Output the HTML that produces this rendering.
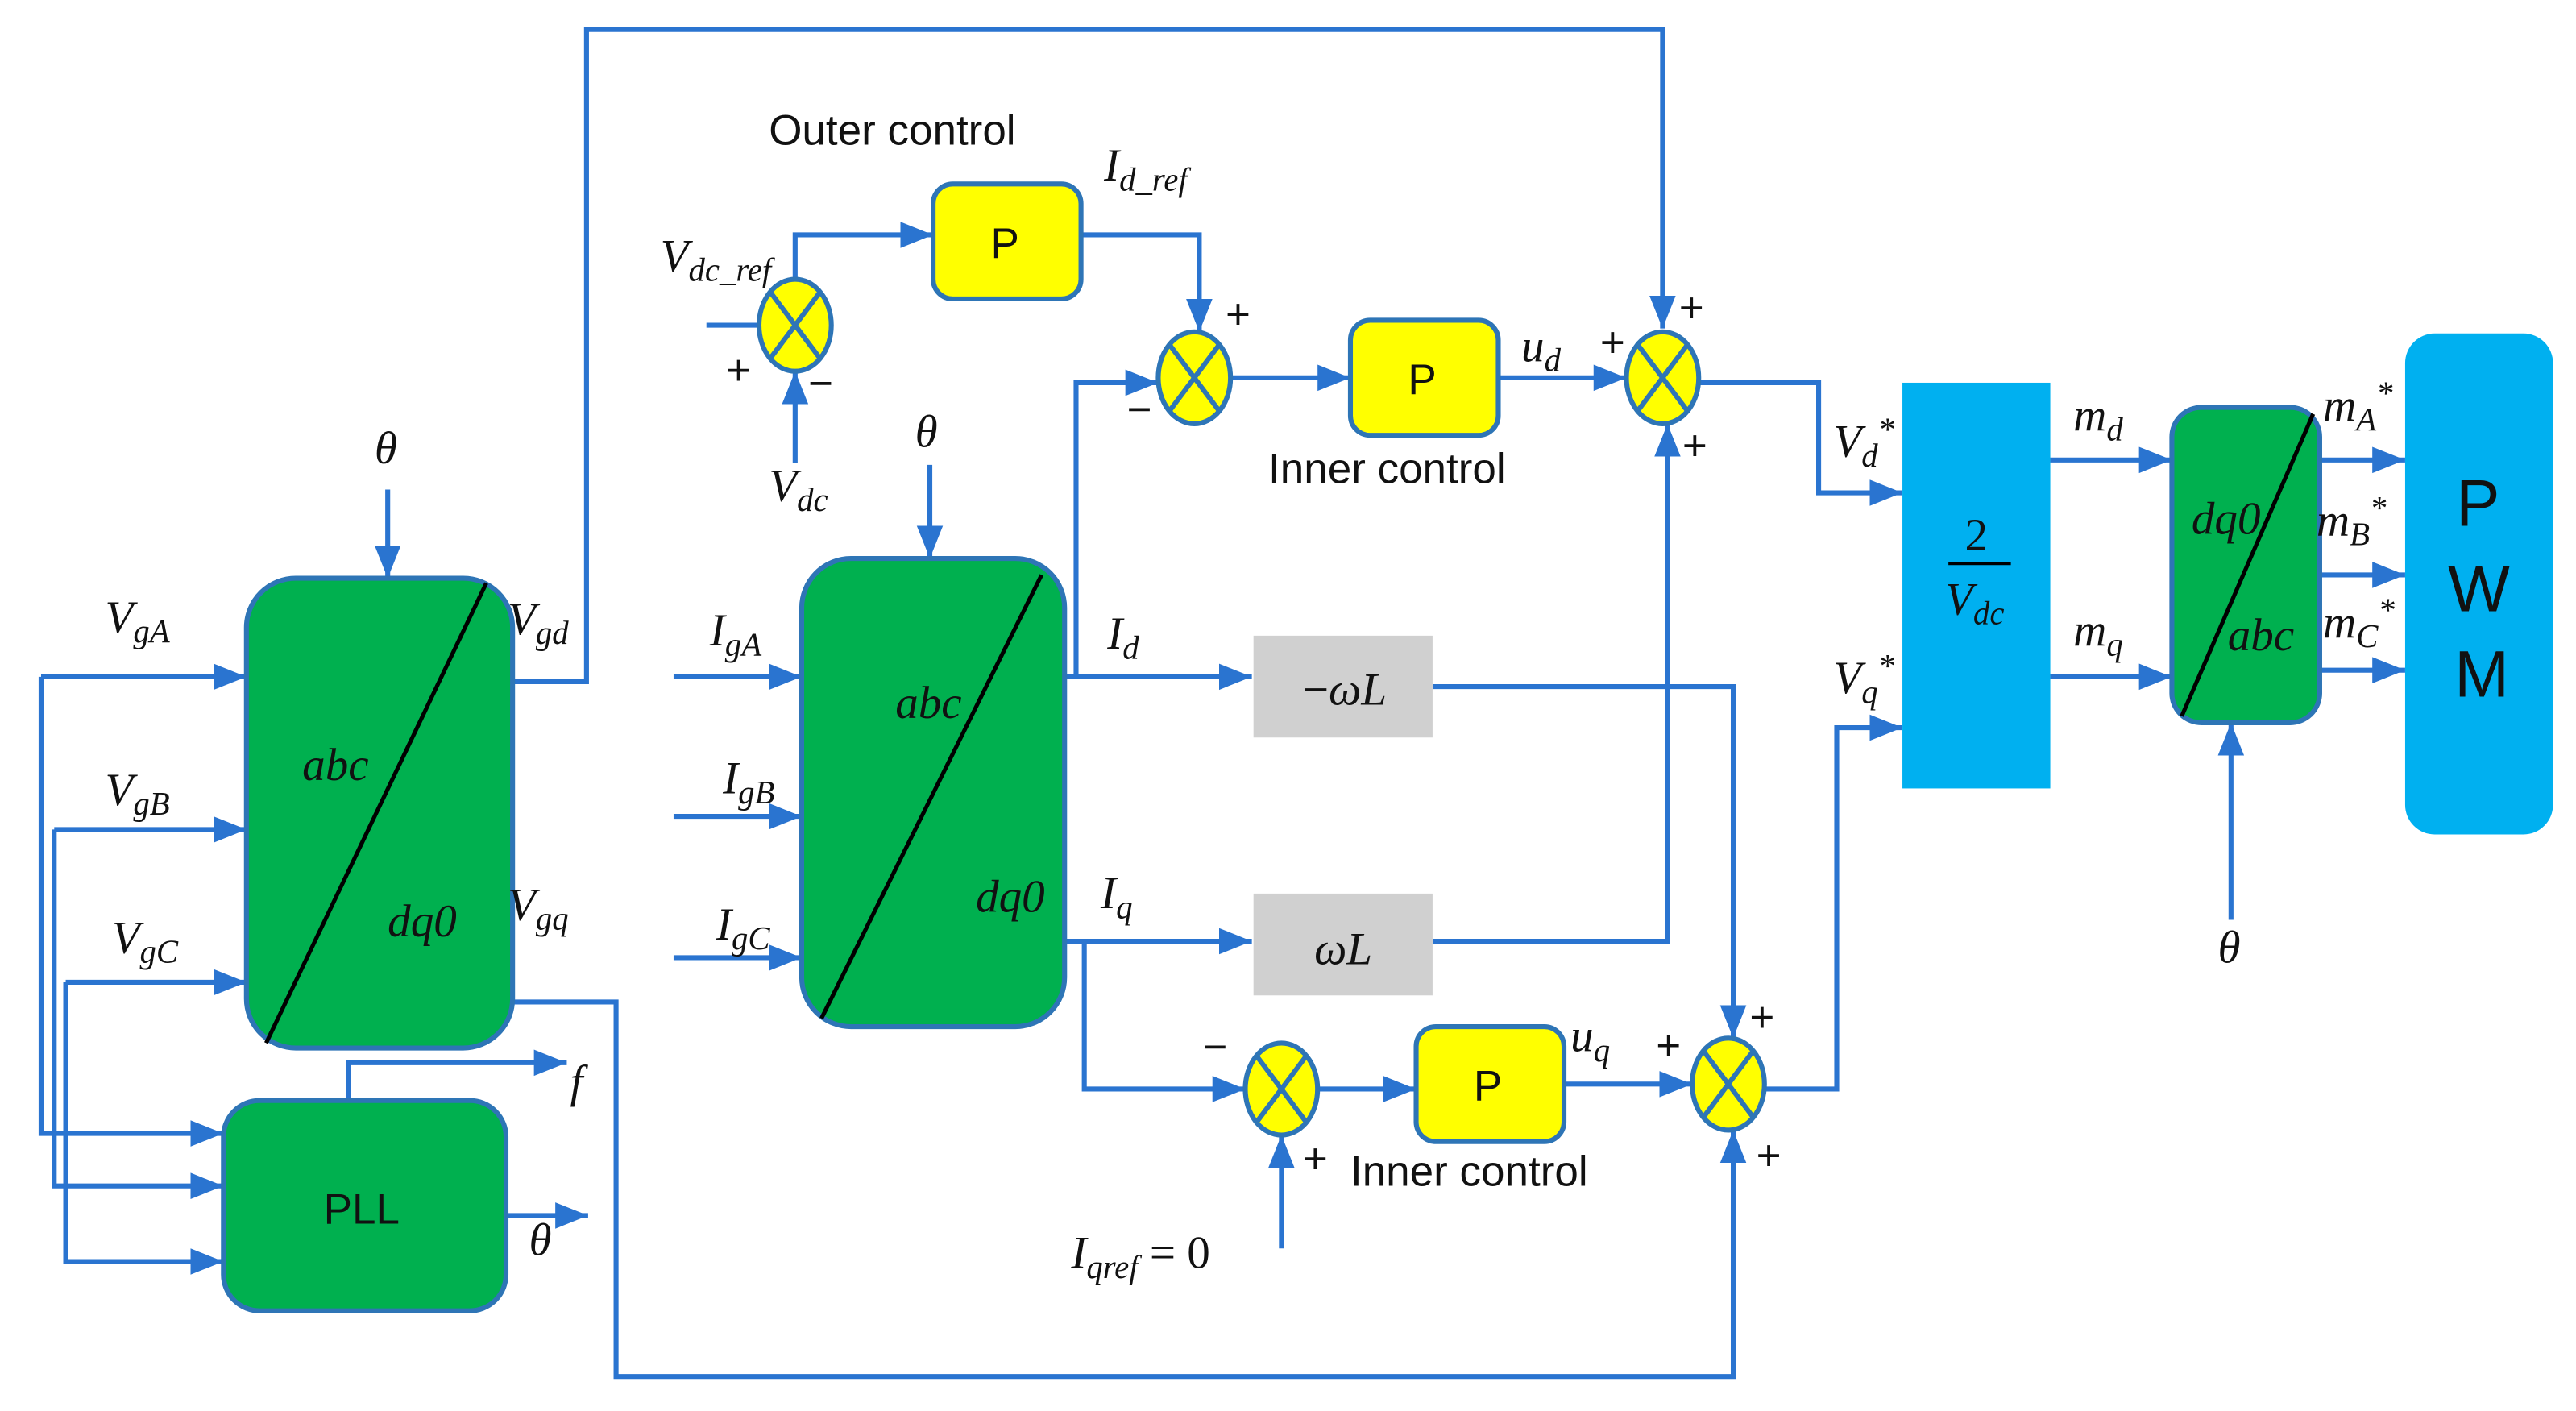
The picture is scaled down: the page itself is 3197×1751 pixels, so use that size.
<!DOCTYPE html>
<html><head><meta charset="utf-8"><style>
html,body{margin:0;padding:0;background:#fff;}
svg{display:block;}
.l{stroke:#2a74d0;stroke-width:3;fill:none;}
.m{font-family:"Liberation Serif",serif;font-style:italic;font-size:28px;fill:#111;}
.s{font-family:"Liberation Serif",serif;font-style:italic;font-size:20px;fill:#111;}
.t{font-family:"Liberation Sans",sans-serif;font-size:26px;fill:#111;}
</style></head><body>
<svg width="3197" height="1751" viewBox="0 0 1568 859" preserveAspectRatio="none" xmlns="http://www.w3.org/2000/svg">
<defs>
<marker id="A" viewBox="0 0 20 20" refX="20" refY="10" markerWidth="20" markerHeight="20" orient="auto" markerUnits="userSpaceOnUse"><path d="M0,2 L20,10 L0,18z" fill="#2a74d0"/></marker></defs>
<rect width="1568" height="859" fill="#fff"/>
<g class="l">
<path d="M312,415 H357 V18 H1012 V200" marker-end="url(#A)"/>
<path d="M312,610 H375 V838 H1055 V688" marker-end="url(#A)"/>
<path d="M25,412 H150" marker-end="url(#A)"/>
<path d="M25,412 V690 H136" marker-end="url(#A)"/>
<path d="M33,505 H150" marker-end="url(#A)"/>
<path d="M33,505 V722 H136" marker-end="url(#A)"/>
<path d="M40,598 H150" marker-end="url(#A)"/>
<path d="M40,598 V768 H136" marker-end="url(#A)"/>
<path d="M236,298 V352" marker-end="url(#A)"/>
<path d="M212,670 V647 H345" marker-end="url(#A)"/>
<path d="M308,740 H358" marker-end="url(#A)"/>
<path d="M410,412 H488" marker-end="url(#A)"/>
<path d="M410,497 H488" marker-end="url(#A)"/>
<path d="M410,583 H488" marker-end="url(#A)"/>
<path d="M566,283 V340" marker-end="url(#A)"/>
<path d="M648,412 H762" marker-end="url(#A)"/>
<path d="M655,412 V233 H705" marker-end="url(#A)"/>
<path d="M648,573 H762" marker-end="url(#A)"/>
<path d="M660,573 V663 H758" marker-end="url(#A)"/>
<path d="M430,198 H462"/>
<path d="M484,282 V226" marker-end="url(#A)"/>
<path d="M484,170 V143 H568" marker-end="url(#A)"/>
<path d="M658,143 H730 V202" marker-end="url(#A)"/>
<path d="M749,230 H822" marker-end="url(#A)"/>
<path d="M912,230 H990" marker-end="url(#A)"/>
<path d="M1034,233 H1107 V300 H1158" marker-end="url(#A)"/>
<path d="M872,418 H1055 V632" marker-end="url(#A)"/>
<path d="M872,573 H1015 V258" marker-end="url(#A)"/>
<path d="M780,760 V691" marker-end="url(#A)"/>
<path d="M802,663 H862" marker-end="url(#A)"/>
<path d="M952,660 H1030" marker-end="url(#A)"/>
<path d="M1074,663 H1118 V443 H1158" marker-end="url(#A)"/>
<path d="M1248,280 H1322" marker-end="url(#A)"/>
<path d="M1248,412 H1322" marker-end="url(#A)"/>
<path d="M1358,560 V440" marker-end="url(#A)"/>
<path d="M1412,280 H1464" marker-end="url(#A)"/>
<path d="M1412,350 H1464" marker-end="url(#A)"/>
<path d="M1412,408 H1464" marker-end="url(#A)"/>
</g>
<g stroke="#2e75b6" stroke-width="3">
<rect x="150" y="352" width="162" height="286" rx="30" fill="#00b04f"/>
<rect x="136" y="670" width="172" height="128" rx="22" fill="#00b04f"/>
<rect x="488" y="340" width="160" height="285" rx="30" fill="#00b04f"/>
<rect x="1322" y="248" width="90" height="192" rx="18" fill="#00b04f"/>
<rect x="568" y="112" width="90" height="70" rx="12" fill="#ffff00"/>
<rect x="822" y="195" width="90" height="70" rx="12" fill="#ffff00"/>
<rect x="862" y="625" width="90" height="70" rx="12" fill="#ffff00"/>
</g>
<g stroke="#000" stroke-width="2.5">
<line x1="162" y1="635" x2="296" y2="355"/>
<line x1="500" y1="620" x2="634" y2="350"/>
<line x1="1328" y1="436" x2="1408" y2="252"/>
</g>
<rect x="763" y="387" width="109" height="62" fill="#d0d0d0"/>
<rect x="763" y="544" width="109" height="62" fill="#d0d0d0"/>
<rect x="1158" y="233" width="90" height="247" fill="#00b0f0"/>
<rect x="1464" y="203" width="90" height="305" rx="18" fill="#00b0f0"/>
<g>
<g transform="translate(484,198)"><ellipse rx="22" ry="28" fill="#ffff00" stroke="#2e75b6" stroke-width="3"/><path d="M-15,-20 L15,20 M15,-20 L-15,20" stroke="#2e75b6" stroke-width="3"/></g>
<g transform="translate(727,230)"><ellipse rx="22" ry="28" fill="#ffff00" stroke="#2e75b6" stroke-width="3"/><path d="M-15,-20 L15,20 M15,-20 L-15,20" stroke="#2e75b6" stroke-width="3"/></g>
<g transform="translate(1012,230)"><ellipse rx="22" ry="28" fill="#ffff00" stroke="#2e75b6" stroke-width="3"/><path d="M-15,-20 L15,20 M15,-20 L-15,20" stroke="#2e75b6" stroke-width="3"/></g>
<g transform="translate(780,663)"><ellipse rx="22" ry="28" fill="#ffff00" stroke="#2e75b6" stroke-width="3"/><path d="M-15,-20 L15,20 M15,-20 L-15,20" stroke="#2e75b6" stroke-width="3"/></g>
<g transform="translate(1052,660)"><ellipse rx="22" ry="28" fill="#ffff00" stroke="#2e75b6" stroke-width="3"/><path d="M-15,-20 L15,20 M15,-20 L-15,20" stroke="#2e75b6" stroke-width="3"/></g>
</g>
<text class="t" x="468" y="88">Outer control</text>
<text class="t" x="772" y="294">Inner control</text>
<text class="t" x="822" y="722">Inner control</text>
<text class="t" x="603" y="157">P</text>
<text class="t" x="857" y="240">P</text>
<text class="t" x="897" y="670">P</text>
<text class="t" x="197" y="745">PLL</text>
<text class="t" x="1495" y="320" style="font-size:40px">P</text>
<text class="t" x="1490" y="372" style="font-size:40px">W</text>
<text class="t" x="1494" y="424" style="font-size:40px">M</text>
<text class="m" x="1196" y="335" style="font-style:normal">2</text>
<line x1="1186" y1="343" x2="1224" y2="343" stroke="#000" stroke-width="2"/>
<text class="m" x="1184" y="374">V<tspan class="s" dy="6">dc</tspan></text>
<text class="m" x="793" y="429" style="font-style:normal">−<tspan style="font-style:italic">ωL</tspan></text>
<text class="m" x="800" y="587">ωL</text>
<text class="m" x="184" y="475">abc</text>
<text class="m" x="236" y="570">dq0</text>
<text class="m" x="545" y="437">abc</text>
<text class="m" x="594" y="555">dq0</text>
<text class="m" x="1334" y="325">dq0</text>
<text class="m" x="1356" y="396">abc</text>
<text class="m" x="228" y="282">θ</text>
<text class="m" x="557" y="272">θ</text>
<text class="m" x="1350" y="586">θ</text>
<text class="m" x="322" y="764">θ</text>
<text class="m" x="347" y="668">f</text>
<text class="m" x="64" y="385">V<tspan class="s" dy="6">gA</tspan></text>
<text class="m" x="64" y="490">V<tspan class="s" dy="6">gB</tspan></text>
<text class="m" x="68" y="580">V<tspan class="s" dy="6">gC</tspan></text>
<text class="m" x="309" y="386">V<tspan class="s" dy="6">gd</tspan></text>
<text class="m" x="309" y="560">V<tspan class="s" dy="6">gq</tspan></text>
<text class="m" x="432" y="393">I<tspan class="s" dy="6">gA</tspan></text>
<text class="m" x="440" y="483">I<tspan class="s" dy="6">gB</tspan></text>
<text class="m" x="436" y="572">I<tspan class="s" dy="6">gC</tspan></text>
<text class="m" x="674" y="395">I<tspan class="s" dy="6">d</tspan></text>
<text class="m" x="670" y="553">I<tspan class="s" dy="6">q</tspan></text>
<text class="m" x="672" y="110">I<tspan class="s" dy="6">d_ref</tspan></text>
<text class="m" x="402" y="165">V<tspan class="s" dy="6">dc_ref</tspan></text>
<text class="m" x="468" y="305">V<tspan class="s" dy="6">dc</tspan></text>
<text class="m" x="926" y="220">u<tspan class="s" dy="6">d</tspan></text>
<text class="m" x="956" y="640">u<tspan class="s" dy="6">q</tspan></text>
<text class="m" x="652" y="772">I<tspan class="s" dy="6">qref</tspan><tspan dy="-6" style="font-style:normal"> = 0</tspan></text>
<text class="m" x="1116" y="278">V<tspan class="s" dy="6">d</tspan><tspan class="s" dy="-16">*</tspan></text>
<text class="m" x="1116" y="422">V<tspan class="s" dy="6">q</tspan><tspan class="s" dy="-16">*</tspan></text>
<text class="m" x="1262" y="262">m<tspan class="s" dy="6">d</tspan></text>
<text class="m" x="1262" y="393">m<tspan class="s" dy="6">q</tspan></text>
<text class="m" x="1414" y="256">m<tspan class="s" dy="6">A</tspan><tspan class="s" dy="-16">*</tspan></text>
<text class="m" x="1410" y="326">m<tspan class="s" dy="6">B</tspan><tspan class="s" dy="-16">*</tspan></text>
<text class="m" x="1414" y="388">m<tspan class="s" dy="6">C</tspan><tspan class="s" dy="-16">*</tspan></text>
<g class="t" style="font-size:26px">
<text x="442" y="234">+</text><text x="492" y="242">−</text>
<text x="746" y="200">+</text><text x="686" y="258">−</text>
<text x="974" y="217">+</text><text x="1022" y="196">+</text><text x="1024" y="280">+</text>
<text x="732" y="646">−</text><text x="793" y="714">+</text>
<text x="1008" y="645">+</text><text x="1065" y="628">+</text><text x="1069" y="712">+</text>
</g>
</svg>
</body></html>
